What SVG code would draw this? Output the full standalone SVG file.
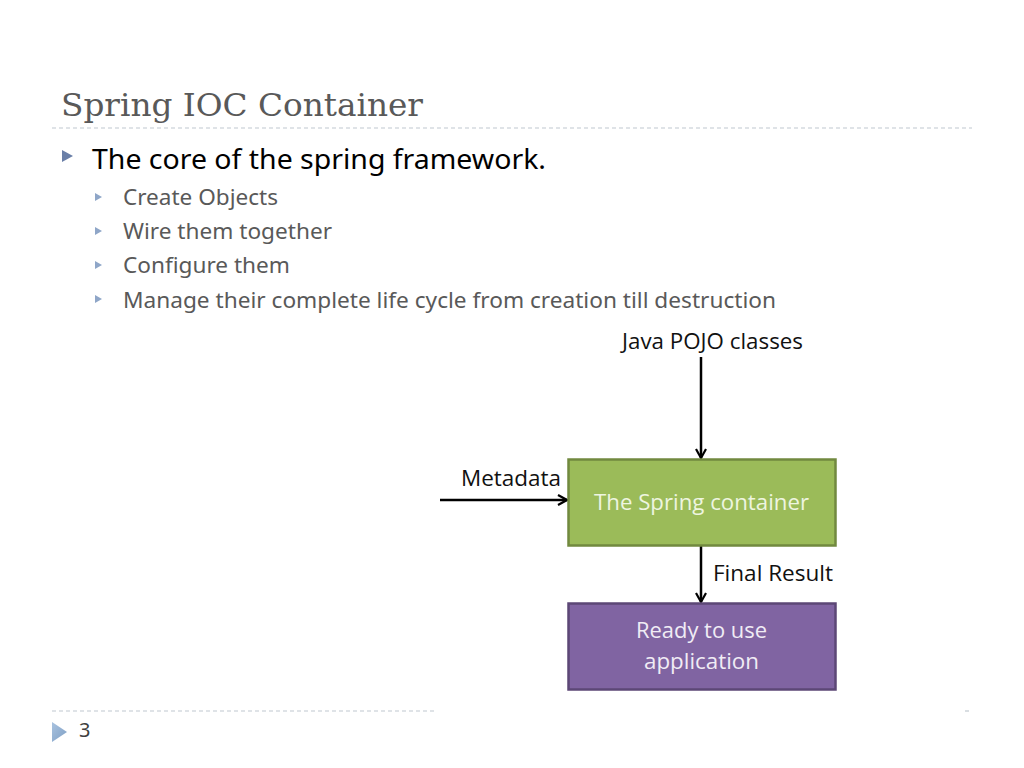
<svg xmlns="http://www.w3.org/2000/svg" width="1024" height="768" viewBox="0 0 1024 768">
<defs>
<style>
.title{font-family:"DejaVu Serif","Liberation Serif",serif;font-size:31px;fill:#595959}
.b1{font-family:"Noto Sans","Open Sans",sans-serif;font-size:26.5px;fill:#000}
.b2{font-family:"Noto Sans","Open Sans",sans-serif;font-size:22px;fill:#595959}
.lbl{font-family:"Open Sans","Noto Sans",sans-serif;font-size:21.5px;fill:#111}
.inbox{font-family:"Open Sans","Noto Sans",sans-serif;font-size:21.5px}
.dash{stroke:#c0c8cf;stroke-width:1.2;stroke-dasharray:4 3;fill:none}
.conn{stroke:#000;stroke-width:2.5;fill:none;marker-end:url(#ah)}
</style>
<marker id="ah" viewBox="0 0 12 12" refX="10" refY="6" markerWidth="12" markerHeight="12" markerUnits="userSpaceOnUse" orient="auto">
<path d="M1,1 L10,6 L1,11" fill="none" stroke="#000" stroke-width="2.2"/>
</marker>
<linearGradient id="pg" x1="0" y1="0" x2="1" y2="1">
<stop offset="0" stop-color="#a9c3e0"/><stop offset="1" stop-color="#7f9fc4"/>
</linearGradient>
</defs>
<rect width="1024" height="768" fill="#fff"/>
<text class="title" x="61" y="116" textLength="362" lengthAdjust="spacingAndGlyphs">Spring IOC Container</text>
<line class="dash" x1="52" y1="128" x2="972" y2="128"/>
<path d="M62,150 L73,156 L62,162 Z" fill="#6a7fa8"/>
<text class="b1" x="92" y="169" textLength="454" lengthAdjust="spacingAndGlyphs">The core of the spring framework.</text>
<g fill="#8fa6c8">
<path d="M95,193 L102,197 L95,201 Z"/>
<path d="M95,227 L102,231 L95,235 Z"/>
<path d="M95,261 L102,265 L95,269 Z"/>
<path d="M95,295 L102,299 L95,303 Z"/>
</g>
<text class="b2" x="123" y="205" textLength="155" lengthAdjust="spacingAndGlyphs">Create Objects</text>
<text class="b2" x="123" y="239" textLength="209" lengthAdjust="spacingAndGlyphs">Wire them together</text>
<text class="b2" x="123" y="273" textLength="167" lengthAdjust="spacingAndGlyphs">Configure them</text>
<text class="b2" x="123" y="308" textLength="653" lengthAdjust="spacingAndGlyphs">Manage their complete life cycle from creation till destruction</text>
<line class="dash" x1="52" y1="711" x2="437" y2="711"/>
<line class="dash" x1="965" y1="711" x2="972" y2="711"/>
<path d="M52,722 L67,732 L52,742 Z" fill="url(#pg)"/>
<text class="b2" x="79" y="737" style="fill:#404040;font-size:20px">3</text>
<g id="connectors">
<line class="conn" x1="701" y1="357" x2="701" y2="458"/>
<line class="conn" x1="440" y1="500" x2="567" y2="500"/>
<line class="conn" x1="701" y1="546" x2="701" y2="602"/>
</g>
<g id="label-pojo"><text class="lbl" x="622" y="349" textLength="181" lengthAdjust="spacingAndGlyphs">Java POJO classes</text></g>
<g id="label-metadata"><text class="lbl" x="461" y="486" textLength="100" lengthAdjust="spacingAndGlyphs">Metadata</text></g>
<g id="label-final"><text class="lbl" x="713" y="581" textLength="120" lengthAdjust="spacingAndGlyphs">Final Result</text></g>
<g id="node-container">
<rect x="568.5" y="459.5" width="267" height="86" fill="#9bbb59" stroke="#71893f" stroke-width="2.5"/>
<text class="inbox" x="594" y="510" fill="#eef5e0" textLength="215" lengthAdjust="spacingAndGlyphs">The Spring container</text>
</g>
<g id="node-app">
<rect x="568.5" y="603.5" width="267" height="86" fill="#8064a2" stroke="#5c4776" stroke-width="2.5"/>
<text class="inbox" x="636" y="638" fill="#f0ecf5" textLength="131" lengthAdjust="spacingAndGlyphs">Ready to use</text>
<text class="inbox" x="644" y="669" fill="#f0ecf5" textLength="115" lengthAdjust="spacingAndGlyphs">application</text>
</g>
</svg>
